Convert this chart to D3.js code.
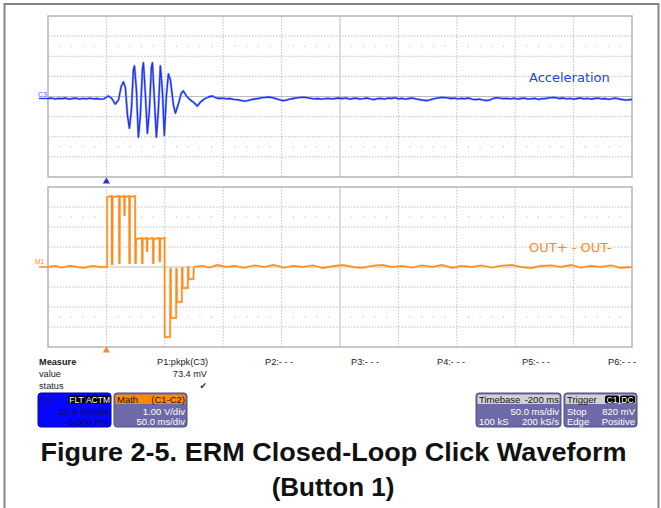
<!DOCTYPE html>
<html>
<head>
<meta charset="utf-8">
<script src="https://cdn.jsdelivr.net/npm/d3@7"></script>
<style>
  body { margin: 0; background: #fff; }
  svg { display: block; font-family: "Liberation Sans", Arial, sans-serif; }
</style>
</head>
<body>
<svg id="chart" width="661" height="508"></svg>
<script>
// C3 acceleration trace: time in ms from trigger, value in mV
const accTime = [-50, -47, -44, -41, -38, -35, -32, -29, -26, -23, -20, -17, -14, -11, -8, -5, -2,
  1.7, 4.3, 7.7, 10.3, 12.8, 14.6, 16.3, 18.0, 19.7, 21.4, 23.1, 24.0, 25.7, 27.4, 29.1, 30.8, 31.7,
  33.4, 35.1, 36.8, 38.5, 39.4, 41.1, 42.8, 44.5, 46.2, 47.9, 49.6, 51.4, 53.1, 54.8, 57.4, 59.1,
  61.6, 64.2, 65.9, 68.5, 71.9, 75.3, 77.9, 80.5, 83.9, 87.3, 90.7, 94.2,
  97, 100, 103, 106, 109, 112, 115, 118, 121, 124, 127, 130, 133, 136, 139, 142, 145, 148, 151, 154,
  157, 160, 163, 166, 169, 172, 175, 178, 181, 184, 187, 190, 193, 196, 199, 202, 205, 208, 211, 214,
  217, 220, 223, 226, 229, 232, 235, 238, 241, 244, 247, 250, 253, 256, 259, 262, 265, 268, 271, 274,
  277, 280, 283, 286, 289, 292, 295, 298, 301, 304, 307, 310, 313, 316, 319, 322, 325, 328, 331, 334,
  337, 340, 343, 346, 349, 352, 355, 358, 361, 364, 367, 370, 373, 376, 379, 382, 385, 388, 391, 394,
  397, 400, 403, 406, 409, 412, 415, 418, 421, 424, 427, 430, 433, 436, 439, 442, 445, 448, 450];
const accValue = [-2.0, -1.6, -2.4, -1.8, -2.2, -1.5, -2.6, -2.0, -1.7, -2.5, -1.9, -2.3, -1.6, -2.4, -2.0, -2.6, -2.3,
  0.5, -1.5, -7.5, -3.5, 10.5, 14.5, 8.5, -18.5, -31.5, -13.5, 26.5, 30.5, 6.5, -40.5, -18.5, 26.5, 33.5,
  1.5, -36.5, -13.5, 28.5, 33.5, -3.5, -40.5, -13.5, 30.5, 6.5, -38.5, 1.5, 22.5, 16.5, -8.5, -16.5,
  -7.5, 3.5, 5.5, 0.5, -3.5, -6.5, -9.5, -5.5, -2.5, -0.5, 0.5, -1.5,
  -2.0, -1.6, -2.4, -2.0, -2.8, -3.2, -3.8, -4.5, -4.2, -3.0, -2.5, -2.0, -1.2, -0.8, -0.5, -1.0, -2.0, -3.2, -4.2, -3.6,
  -2.6, -2.0, -1.4, -0.8, -0.6, -1.2, -1.8, -2.4, -2.0, -2.6, -2.2, -1.8, -2.4, -2.0, -1.5, -2.2, -1.4, -2.6, -2.0, -1.7,
  -2.5, -2.1, -1.5, -2.4, -3.2, -2.2, -1.8, -2.6, -1.6, -2.0, -1.2, -2.3, -1.8, -2.6, -2.0, -1.6, -2.4, -3.0, -3.6, -4.2,
  -3.4, -2.4, -1.6, -1.0, -0.8, -1.4, -2.0, -1.6, -2.4, -1.8, -2.2, -1.5, -2.6, -3.2, -2.6, -3.4, -4.0, -3.6, -2.0, -1.2,
  -1.6, -2.2, -1.8, -2.4, -1.7, -2.5, -2.0, -1.6, -2.6, -2.2, -1.8, -2.8, -2.2, -2.0, -1.4, -0.8, -1.2, -2.0, -1.5, -2.4,
  -1.9, -2.6, -2.0, -1.5, -2.3, -1.8, -2.5, -2.0, -1.6, -2.4, -2.0, -2.8, -2.2, -1.6, -2.5, -3.0, -3.6, -3.2, -3.0];

// Math trace (C1-C2): time in ms, value in V
const mathTime = [-50, -44, -38, -31, -25, -19, -12, -6, 0.6, 0.6, 4.5, 4.6, 5.2, 5.3, 10.8, 10.9, 11.4, 11.5,
  15.2, 15.3, 15.7, 15.8, 19.5, 19.6, 20.1, 20.2, 24.6, 24.7, 25.3, 25.4, 30.4, 30.5, 31.0, 31.1, 34.6, 34.7,
  35.1, 35.2, 39.8, 39.9, 40.4, 40.5, 45.4, 45.5, 46.0, 46.1, 49.8, 49.9, 54.6, 54.7, 55.2, 55.3, 59.7, 59.8,
  60.3, 60.4, 64.6, 64.7, 65.2, 65.3, 69.7, 69.8, 70.3, 70.4, 74.6, 74.7,
  82, 88, 95, 103, 110, 118, 127, 135, 143, 152, 160, 168, 177, 185, 194, 202, 211, 219, 228, 236, 245,
  253, 262, 270, 279, 287, 296, 304, 313, 321, 330, 338, 347, 355, 364, 372, 381, 389, 398, 406, 415,
  423, 432, 440, 450];
const mathValue = [0, 0.05, -0.03, 0.06, 0, -0.04, 0.05, 0, 0, 3.5, 3.55, 0.15, 0.15, 3.5, 3.55, 0.2, 0.2, 3.5,
  3.55, 2.6, 2.6, 3.5, 3.55, 0.2, 0.2, 3.5, 3.55, 0.2, 0.2, 1.4, 1.45, 0.2, 0.2, 1.4, 1.45, 0.8,
  0.8, 1.4, 1.45, 0.2, 0.2, 1.4, 1.45, 0.3, 0.3, 1.4, 1.45, -3.5, -3.5, -0.1, -0.1, -2.55, -2.55, -0.1,
  -0.1, -1.75, -1.75, -0.05, -0.05, -1.05, -1.05, 0, 0, -0.6, -0.6, 0,
  0.06, -0.03, 0.1, 0, 0.05, -0.04, 0.08, 0, 0.1, -0.03, 0.05, 0, 0.08, -0.05, 0.04, 0.1, 0, -0.04, 0.06, 0.1, 0,
  0.05, -0.03, 0.08, 0, 0.1, -0.04, 0.05, 0, 0.08, -0.03, 0.06, 0.1, 0, -0.05, 0.05, 0.08, 0, 0.1, -0.03, 0.05,
  0, 0.08, -0.04, 0];

const timeTicks = [-50, 0, 50, 100, 150, 200, 250, 300, 350, 400, 450];
const accTicks = [-80, -60, -40, -20, 0, 20, 40, 60, 80];
const mathTicks = [-4, -3, -2, -1, 0, 1, 2, 3, 4];
const measureSlots = ['P1:pkpk(C3)', 'P2:- - -', 'P3:- - -', 'P4:- - -', 'P5:- - -', 'P6:- - -'];
const measureSlotX = [157, 265, 351, 437, 522, 608];

const svg = d3.select('#chart');

// outer frame
svg.append('rect')
  .attr('x', 4.5).attr('y', 4).attr('width', 654).attr('height', 520)
  .attr('fill', 'none').attr('stroke', '#858585').attr('stroke-width', 2);

const x = d3.scaleLinear().domain([-50, 450]).range([48, 632]);
const yAcc = d3.scaleLinear().domain([-80, 80]).range([177, 16]);
const yMath = d3.scaleLinear().domain([-4, 4]).range([347, 187]);

function drawGrid(yScale, yTicks, subValue) {
  const g = svg.append('g');
  const [y1, y0] = yScale.range();
  g.selectAll('line.v')
    .data(timeTicks.slice(1, -1))
    .join('line')
    .attr('x1', d => x(d)).attr('x2', d => x(d))
    .attr('y1', y0).attr('y2', y1)
    .attr('stroke', d => d === 200 ? '#bdbdbd' : '#c0c0c0')
    .attr('stroke-dasharray', d => d === 200 ? null : '1.5,1.5');
  g.selectAll('line.h')
    .data(yTicks.slice(1, -1))
    .join('line')
    .attr('x1', x.range()[0]).attr('x2', x.range()[1])
    .attr('y1', d => yScale(d)).attr('y2', d => yScale(d))
    .attr('stroke', d => d === 0 ? '#bdbdbd' : '#c0c0c0')
    .attr('stroke-dasharray', d => d === 0 ? null : '1.5,1.5');
  // minor tick dots
  const minor = [];
  timeTicks.slice(0, -1).forEach(t => [10, 20, 30, 40].forEach(k => minor.push(t + k)));
  [subValue, -subValue].forEach(v => {
    g.append('g').selectAll('rect')
      .data(minor)
      .join('rect')
      .attr('x', d => x(d) - 0.5).attr('y', yScale(v) - 0.5)
      .attr('width', 1).attr('height', 1)
      .attr('fill', '#b0b0b0');
  });
  g.append('rect')
    .attr('x', x.range()[0]).attr('y', y0)
    .attr('width', x.range()[1] - x.range()[0]).attr('height', y1 - y0)
    .attr('fill', 'none').attr('stroke', '#b4b4b4').attr('stroke-width', 1.5);
}

drawGrid(yAcc, accTicks, 50);
drawGrid(yMath, mathTicks, 2.5);

// traces (light underlay mimics the scope's persistence shading)
const accLine = d3.line().x(d => x(accTime[d])).y(d => yAcc(accValue[d]));
svg.append('path')
  .attr('d', accLine(d3.range(accTime.length)))
  .attr('fill', 'none').attr('stroke', '#a3adff').attr('stroke-width', 2.4)
  .attr('stroke-linejoin', 'round');
svg.append('path')
  .attr('d', accLine(d3.range(accTime.length)))
  .attr('fill', 'none').attr('stroke', '#1b34ec').attr('stroke-width', 1.3)
  .attr('stroke-linejoin', 'round');

const mathLine = d3.line().x(d => x(mathTime[d])).y(d => yMath(mathValue[d]));
svg.append('path')
  .attr('d', mathLine(d3.range(mathTime.length)))
  .attr('fill', 'none').attr('stroke', '#ffd0a4').attr('stroke-width', 2.3);
svg.append('path')
  .attr('d', mathLine(d3.range(mathTime.length)))
  .attr('fill', 'none').attr('stroke', '#ff8a1c').attr('stroke-width', 1.4);

// channel markers
svg.append('line').attr('x1', 39).attr('x2', 48).attr('y1', yAcc(-2)).attr('y2', yAcc(-2))
  .attr('stroke', '#1b34ec').attr('stroke-width', 1.4);
svg.append('text').attr('x', 38).attr('y', yAcc(-2) - 2).text('C3')
  .attr('font-size', 7).attr('fill', '#3a50ff');
svg.append('line').attr('x1', 39).attr('x2', 48).attr('y1', yMath(0)).attr('y2', yMath(0))
  .attr('stroke', '#ff8a1c').attr('stroke-width', 1.5);
svg.append('text').attr('x', 35).attr('y', yMath(0) - 3).text('M1')
  .attr('font-size', 6.5).attr('fill', '#ff8a1c');

// trigger markers
svg.append('path').attr('d', d3.symbol(d3.symbolTriangle, 22)())
  .attr('transform', `translate(${x(0)},181.5)`).attr('fill', '#1b34ec');
svg.append('path').attr('d', d3.symbol(d3.symbolTriangle, 22)())
  .attr('transform', `translate(${x(0)},350.5)`).attr('fill', '#ff8a1c');

// trace labels
svg.append('text').attr('x', 529).attr('y', 81.5).text('Acceleration')
  .attr('font-family', 'DejaVu Sans').attr('font-size', 13).attr('fill', '#2542f0');
svg.append('text').attr('x', 529).attr('y', 252).text('OUT+ - OUT-')
  .attr('font-family', 'DejaVu Sans').attr('font-size', 13).attr('fill', '#ff8a1c');

// measure table
const meas = svg.append('g').attr('font-size', 9.2).attr('fill', '#222');
meas.append('text').attr('x', 39).attr('y', 365).text('Measure').attr('font-weight', 'bold');
meas.append('text').attr('x', 39).attr('y', 377).text('value');
meas.append('text').attr('x', 39).attr('y', 389).text('status');
meas.selectAll('text.slot')
  .data(measureSlots)
  .join('text')
  .attr('x', (d, i) => measureSlotX[i]).attr('y', 365)
  .text(d => d);
meas.append('text').attr('x', 207).attr('y', 377).attr('text-anchor', 'end').text('73.4 mV');
meas.append('text').attr('x', 207).attr('y', 389).attr('text-anchor', 'end').text('\u2714')
  .attr('font-family', 'DejaVu Sans').attr('font-size', 9).attr('fill', '#333');

// info boxes
function infoBox(x0, w, opts) {
  const g = svg.append('g').attr('font-size', 9.5);
  const y0 = 393, h = 34;
  g.append('rect').attr('x', x0).attr('y', y0).attr('width', w).attr('height', h)
    .attr('rx', 3).attr('fill', opts.body).attr('stroke', opts.border).attr('stroke-width', 1);
  if (opts.head) {
    g.append('rect').attr('x', x0 + 1.5).attr('y', y0 + 1.5).attr('width', w - 3).attr('height', 9.5)
      .attr('rx', 1.5).attr('fill', opts.head);
  }
  g.append('text').attr('x', x0 + 3).attr('y', y0 + 9.5).text(opts.title).attr('fill', opts.headText);
  if (opts.titleRight) {
    g.append('text').attr('x', x0 + w - 2).attr('y', y0 + 9.5).attr('text-anchor', 'end')
      .text(opts.titleRight).attr('fill', opts.headText);
  }
  (opts.pills || []).forEach(p => {
    g.append('rect').attr('x', p[0]).attr('y', y0 + 2.5).attr('width', p[1]).attr('height', 8)
      .attr('rx', 2).attr('fill', '#000');
    g.append('text').attr('x', p[0] + p[1] / 2).attr('y', y0 + 9.5).attr('text-anchor', 'middle')
      .text(p[2]).attr('fill', '#fff').attr('font-size', 8.5);
  });
  opts.rows.forEach((r, i) => {
    const yy = y0 + 21.5 + i * 10;
    if (r[0]) g.append('text').attr('x', x0 + 3).attr('y', yy).text(r[0]).attr('fill', opts.text);
    if (r[1]) g.append('text').attr('x', x0 + w - 2).attr('y', yy).attr('text-anchor', 'end')
      .text(r[1]).attr('fill', opts.text);
  });
}

infoBox(38, 73, { body: '#0707fb', border: '#0000a0', title: 'C3', headText: '#14147a',
  text: '#0a0a60', pills: [[68, 17, 'FLT'], [86, 24, 'ACTM']],
  rows: [[null, '20.0 mV/div'], [null, '-3.000 mV']] });
infoBox(114, 73, { body: '#6e6aa8', border: '#514d8a', head: '#ff8a00', title: 'Math',
  titleRight: '(C1-C2)', headText: '#111', text: '#fff',
  rows: [[null, '1.00 V/div'], [null, '50.0 ms/div']] });
infoBox(476, 85, { body: '#6e6aa8', border: '#514d8a', head: '#d2d2d2', title: 'Timebase',
  titleRight: '-200 ms', headText: '#111', text: '#fff',
  rows: [[null, '50.0 ms/div'], ['100 kS', '200 kS/s']] });
infoBox(564, 73, { body: '#6e6aa8', border: '#514d8a', head: '#d2d2d2', title: 'Trigger',
  headText: '#111', text: '#fff', pills: [[605, 14, 'C1'], [620, 15, 'DC']],
  rows: [['Stop', '820 mV'], ['Edge', 'Positive']] });

// caption
svg.append('text').attr('x', 333.5).attr('y', 461).attr('text-anchor', 'middle')
  .attr('font-size', 26).attr('font-weight', 'bold').attr('fill', '#111')
  .attr('textLength', 586).attr('lengthAdjust', 'spacingAndGlyphs')
  .text('Figure 2-5. ERM Closed-Loop Click Waveform');
svg.append('text').attr('x', 333).attr('y', 496).attr('text-anchor', 'middle')
  .attr('font-size', 26).attr('font-weight', 'bold').attr('fill', '#111')
  .text('(Button 1)');
</script>
</body>
</html>
